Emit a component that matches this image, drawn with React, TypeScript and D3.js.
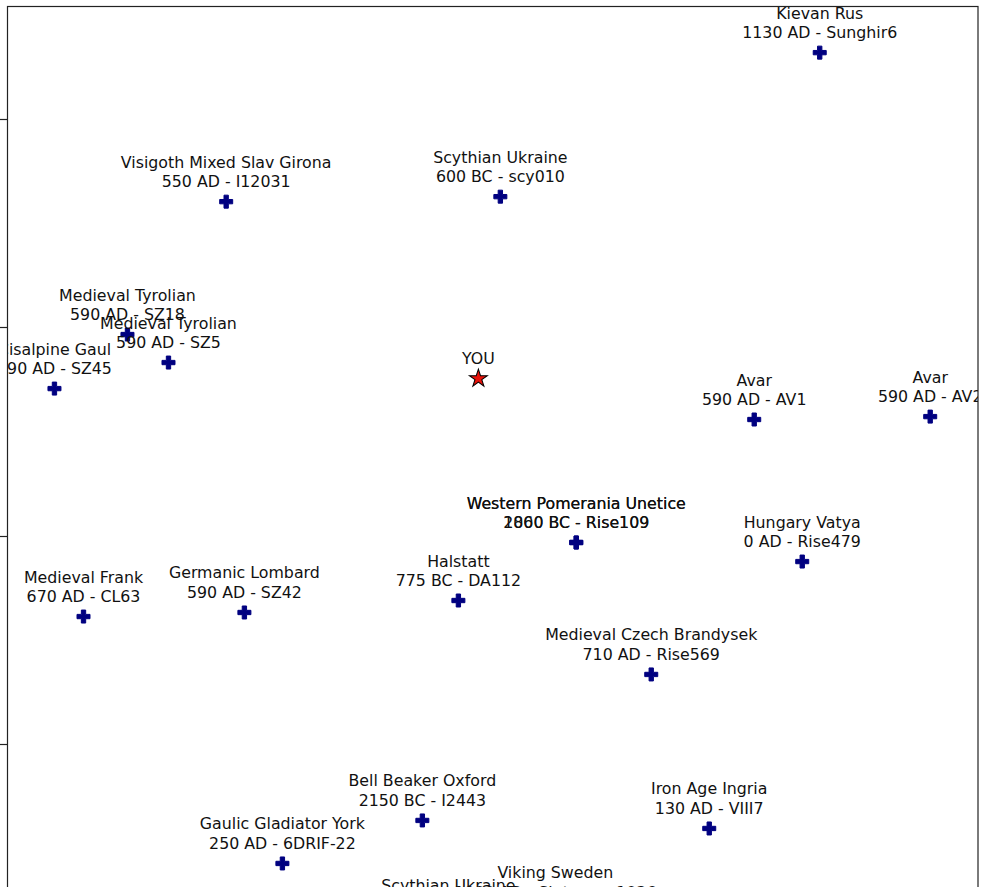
import React from "react";
import * as d3 from "d3";

const names = [
  "Kievan Rus",
  "Visigoth Mixed Slav Girona",
  "Scythian Ukraine",
  "Medieval Tyrolian",
  "Medieval Tyrolian",
  "Cisalpine Gaul",
  "Avar",
  "Avar",
  "Western Pomerania Unetice",
  "Western Pomerania Unetice",
  "Hungary Vatya",
  "Halstatt",
  "Medieval Frank",
  "Germanic Lombard",
  "Medieval Czech Brandysek",
  "Bell Beaker Oxford",
  "Iron Age Ingria",
  "Gaulic Gladiator York",
  "Viking Sweden",
  "Scythian Ukraine",
];
const samples = [
  "1130 AD - Sunghir6",
  "550 AD - I12031",
  "600 BC - scy010",
  "590 AD - SZ18",
  "590 AD - SZ5",
  "590 AD - SZ45",
  "590 AD - AV1",
  "590 AD - AV2",
  "2000 BC - Rise109",
  "1860 BC - Rise109",
  "0 AD - Rise479",
  "775 BC - DA112",
  "670 AD - CL63",
  "590 AD - SZ42",
  "710 AD - Rise569",
  "2150 BC - I2443",
  "130 AD - VIII7",
  "250 AD - 6DRIF-22",
  "1000 AD - Sigtuna_a1036",
  "400 BC - scy305",
];
const pc1 = [
  0.0330, -0.0240, 0.00233, -0.03348, -0.02954, -0.04049, 0.02671, 0.04361,
  0.00962, 0.00962, 0.03132, -0.0017, -0.0377, -0.02225, 0.01682, -0.00516,
  0.02239, -0.0186, 0.00761, -0.00266,
];
const pc2 = [
  0.04637, 0.03206, 0.03254, 0.0193, 0.01661, 0.01411, 0.01114, 0.01142,
  -0.00067, -0.00067, -0.0025, -0.00624, -0.00778, -0.00739, -0.01334,
  -0.02736, -0.02813, -0.03149, -0.03619, -0.03744,
];
const youX = 0.00022;
const youY = 0.01507;
const yTicks = [0.04, 0.02, 0.0, -0.02];

const W = 987;
const H = 887;
const L = 7.5, R = 978, T = 6.5, B = 950;

export default function App() {
  const x = d3.scaleLinear().domain([-0.045, 0.0482]).range([L, R]);
  const y = d3.scaleLinear().domain([-0.0398, 0.0508]).range([B, T]);
  const plusPath = (() => {
    const s = 13 / 6;
    const pts = [
      [-1, -3], [-1, -1], [-3, -1], [-3, 1], [-1, 1], [-1, 3],
      [1, 3], [1, 1], [3, 1], [3, -1], [1, -1], [1, -3],
    ];
    return "M" + pts.map((p) => `${p[0] * s},${p[1] * s}`).join("L") + "Z";
  })();
  const star = d3.symbol().type(d3.symbolStar).size(75)() as string;
  const font = "'DejaVu Sans', sans-serif";
  const fs = 15.8;
  return (
    <svg
      width={W}
      height={H}
      style={{ position: "absolute", left: 0, top: 0, background: "#fff" }}
    >
      <defs>
        <clipPath id="ax">
          <rect x={L} y={T} width={R - L} height={B - T} />
        </clipPath>
      </defs>
      <rect x={0} y={0} width={W} height={H} fill="#fff" />
      <g clipPath="url(#ax)">
        {pc1.map((v, i) => (
          <g key={i} transform={`translate(${x(v)},${y(pc2[i])})`}>
            <path d={plusPath} fill="#000080" stroke="#000080" strokeWidth={1} strokeLinejoin="round" />
          </g>
        ))}
        <path
          d={star}
          transform={`translate(${x(youX)},${y(youY)}) scale(1.15)`}
          fill="#e8110a"
          stroke="#000"
          strokeWidth={0.9}
        />
        {pc1.map((v, i) => (
          <text
            key={"t" + i}
            x={x(v)}
            y={y(pc2[i])}
            textAnchor="middle"
            fontFamily={font}
            fontSize={fs}
            fill="#111"
          >
            <tspan x={x(v)} dy={-34}>{names[i]}</tspan>
            <tspan x={x(v)} dy={19.5}>{samples[i]}</tspan>
          </text>
        ))}
        <text
          x={x(youX)}
          y={y(youY) - 14.5}
          textAnchor="middle"
          fontFamily={font}
          fontSize={fs}
          fill="#111"
        >
          YOU
        </text>
      </g>
      {yTicks.map((t) => (
        <line key={t} x1={0} x2={L} y1={Math.round(y(t)) + 0.5} y2={Math.round(y(t)) + 0.5} stroke="#222" strokeWidth={1.2} />
      ))}
      <rect x={L} y={T} width={R - L} height={B - T} fill="none" stroke="#222" strokeWidth={1.2} />
    </svg>
  );
}
